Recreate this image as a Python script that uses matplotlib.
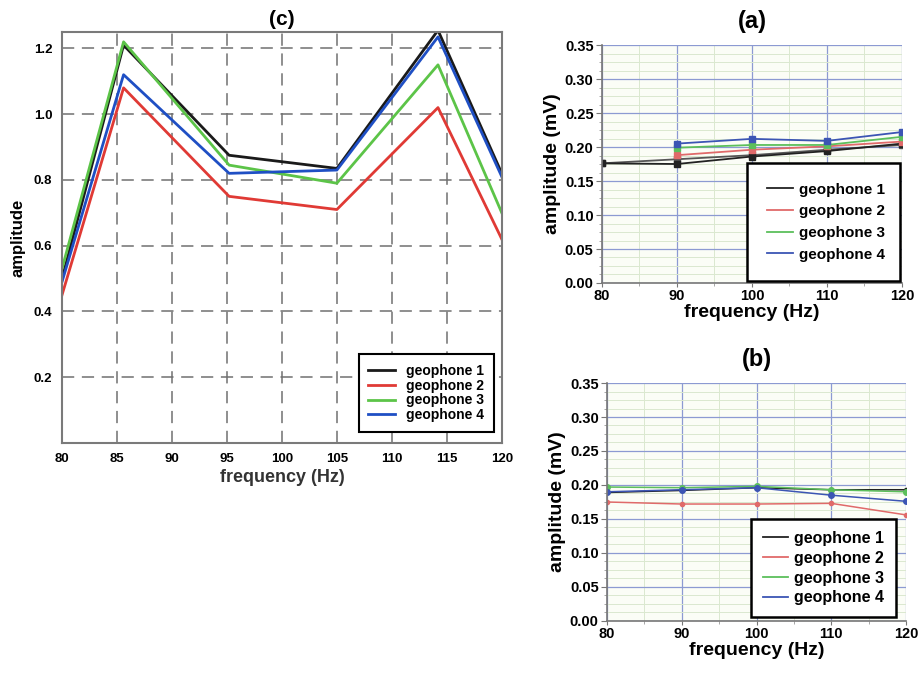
import matplotlib
matplotlib.use("Agg")
import matplotlib.pyplot as plt
from matplotlib.lines import Line2D
from matplotlib.ticker import MultipleLocator, FormatStrFormatter

plt.rcParams["font.family"] = ["Liberation Sans", "DejaVu Sans"]
plt.rcParams["font.weight"] = "bold"

labels = ["geophone 1", "geophone 2", "geophone 3", "geophone 4"]

# (c) amplitude vs frequency
freq_c = [80, 85.6, 95.2, 105.0, 114.2, 120]
amp_c = [
    [0.50, 1.21, 0.875, 0.835, 1.255, 0.82],   # geophone 1
    [0.45, 1.08, 0.750, 0.710, 1.020, 0.62],   # geophone 2
    [0.53, 1.22, 0.845, 0.790, 1.150, 0.70],   # geophone 3
    [0.49, 1.12, 0.820, 0.830, 1.235, 0.81],   # geophone 4
]

# (a) amplitude (mV)
freq_a = [
    [80, 90, 100, 110, 120],
    [90, 100, 110, 120],
    [90, 100, 110, 120],
    [90, 100, 110, 120],
]
amp_a = [
    [0.176, 0.175, 0.186, 0.194, 0.205],
    [0.188, 0.196, 0.201, 0.208],
    [0.199, 0.203, 0.203, 0.215],
    [0.205, 0.212, 0.209, 0.222],
]
# second dark trace in (a), drawn without legend entry
freq_a_extra = [80, 90, 100, 110, 120]
amp_a_extra = [0.176, 0.182, 0.188, 0.196, 0.203]

# (b) amplitude (mV)
freq_b = [80, 90, 100, 110, 120]
amp_b = [
    [0.189, 0.192, 0.196, 0.193, 0.193],
    [0.175, 0.172, 0.172, 0.173, 0.156],
    [0.197, 0.196, 0.198, 0.193, 0.190],
    [0.190, 0.193, 0.196, 0.185, 0.176],
]

colors_c = ["#1a1a1a", "#e03a35", "#5cc448", "#1f4fc4"]
colors_ab = ["#222222", "#e06a6a", "#5cbf5c", "#3c55b4"]

fig = plt.figure(figsize=(9.2, 6.73), dpi=100)

# ── (c) ───────────────────────────────────────────────────────────────
ax_c = fig.add_axes([0.0674, 0.3418, 0.478, 0.6107])
for ys, c, lab in zip(amp_c, colors_c, labels):
    ax_c.plot(freq_c, ys, color=c, lw=2.0, label=lab)
ax_c.set_xlim(80, 120)
ax_c.set_ylim(0, 1.25)
ax_c.set_xticks(range(80, 121, 5))
ax_c.set_yticks([0.2, 0.4, 0.6, 0.8, 1.0, 1.2])
ax_c.yaxis.set_major_formatter(FormatStrFormatter("%.1f"))
ax_c.tick_params(length=0, labelsize=9.5, pad=7)
ax_c.grid(True, color="#707070", ls=(0, (8, 5)), lw=1.1)
for s in ax_c.spines.values():
    s.set_color("#7a7a7a")
    s.set_linewidth(1.5)
ax_c.set_xlabel("frequency (Hz)", fontsize=13, fontweight="bold", color="#333333",
                labelpad=3)
ax_c.set_ylabel("amplitude", fontsize=12, fontweight="bold", labelpad=6)
ax_c.set_title("(c)", fontsize=15, fontweight="bold", pad=5)
leg = ax_c.legend(loc="lower right", bbox_to_anchor=(0.997, 0.01), fontsize=10,
                  handlelength=1.9, labelspacing=0.05, fancybox=False,
                  edgecolor="black", framealpha=1, borderpad=0.7)
leg.get_frame().set_linewidth(1.5)


def style_small(ax, title):
    ax.set_xlim(80, 120)
    ax.set_ylim(0, 0.35)
    ax.xaxis.set_major_locator(MultipleLocator(10))
    ax.xaxis.set_minor_locator(MultipleLocator(5))
    ax.yaxis.set_major_locator(MultipleLocator(0.05))
    ax.yaxis.set_minor_locator(MultipleLocator(0.0125))
    ax.yaxis.set_major_formatter(FormatStrFormatter("%.2f"))
    ax.grid(True, which="major", color="#8c9ad2", lw=0.9)
    ax.grid(True, which="minor", color="#dbe8cf", lw=0.7)
    ax.set_axisbelow(True)
    ax.set_facecolor("#fbfdf6")
    ax.spines["top"].set_visible(False)
    ax.spines["right"].set_visible(False)
    for side in ("left", "bottom"):
        ax.spines[side].set_color("#777777")
        ax.spines[side].set_linewidth(1.2)
    ax.tick_params(which="major", length=4, color="#777777", labelsize=10.5, pad=2)
    ax.tick_params(which="minor", length=2.5, color="#999999")
    ax.tick_params(axis="x", which="major", length=3, pad=1)
    ax.set_xlabel("frequency (Hz)", fontsize=14, fontweight="bold", labelpad=1)
    ax.set_ylabel("amplitude (mV)", fontsize=14, fontweight="bold", labelpad=3)
    ax.set_title(title, fontsize=17, fontweight="bold", pad=12)


def line_handles(colors):
    return [Line2D([], [], color=c, lw=1.3) for c in colors]


# ── (a) ───────────────────────────────────────────────────────────────
ax_a = fig.add_axes([0.6543, 0.5795, 0.326, 0.3536])
ax_a.plot(freq_a_extra, amp_a_extra, color="#555555", lw=1.3, marker="s", ms=4)
for xs, ys, c in zip(freq_a, amp_a, colors_ab):
    ax_a.plot(xs, ys, color=c, lw=1.3, marker="s", ms=4)
style_small(ax_a, "(a)")
leg_a = ax_a.legend(line_handles(colors_ab), labels, loc="upper left",
                    bbox_to_anchor=(0.483, -0.01, 0.51, 0.515), mode="expand",
                    fontsize=11, handlelength=1.75, handletextpad=0.35,
                    labelspacing=0.5, fancybox=False,
                    edgecolor="black", framealpha=1, borderpad=1.3,
                    borderaxespad=0)
leg_a.get_frame().set_linewidth(1.8)
leg_a.set_zorder(5)

# ── (b) ───────────────────────────────────────────────────────────────
ax_b = fig.add_axes([0.6598, 0.0773, 0.325, 0.3536])
sizes_b = [3, 3, 4, 4]
for ys, c, ms in zip(amp_b, colors_ab, sizes_b):
    ax_b.plot(freq_b, ys, color=c, lw=1.1, marker="o", ms=ms)
style_small(ax_b, "(b)")
leg_b = ax_b.legend(line_handles(colors_ab), labels, loc="lower right",
                    bbox_to_anchor=(0.965, 0.015), fontsize=11.5,
                    handlelength=1.55, handletextpad=0.35, labelspacing=0.3,
                    fancybox=False, edgecolor="black", framealpha=1,
                    borderpad=0.75, borderaxespad=0)
leg_b.get_frame().set_linewidth(1.8)
leg_b.set_zorder(5)

fig.savefig("out.png", dpi=100)
